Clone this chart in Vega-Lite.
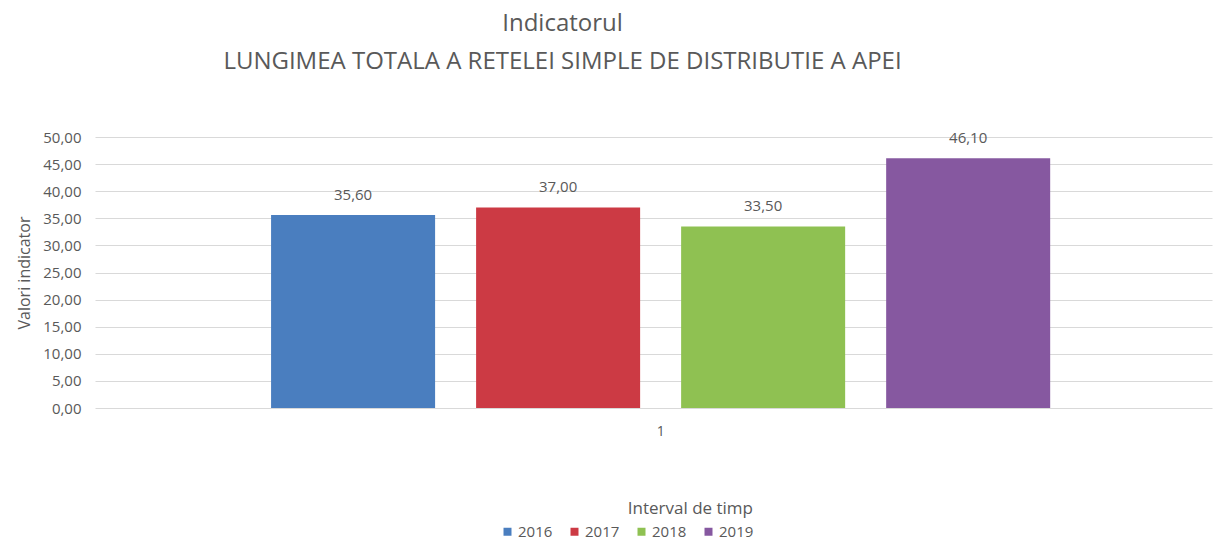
{
  "$schema": "https://vega.github.io/schema/vega-lite/v6.json",
  "autosize": "none",
  "width": 1117,
  "height": 271,
  "padding": {"left": 95, "top": 137, "right": 2, "bottom": 132},
  "background": "white",
  "title": {
    "text": ["Indicatorul", "LUNGIMEA TOTALA A RETELEI SIMPLE DE DISTRIBUTIE A APEI"],
    "anchor": "middle",
    "dx": -91,
    "offset": 56,
    "font": "Open Sans",
    "fontSize": 24,
    "fontWeight": "normal",
    "color": "#595959",
    "lineHeight": 38
  },
  "data": {
    "values": [
      {"cat": "1", "an": "2016", "val": 35.6},
      {"cat": "1", "an": "2017", "val": 37.0},
      {"cat": "1", "an": "2018", "val": 33.5},
      {"cat": "1", "an": "2019", "val": 46.1}
    ]
  },
  "encoding": {
    "x": {
      "field": "cat", "type": "nominal",
      "scale": {"paddingInner": 0, "paddingOuter": 0.181, "align": 0.524},
      "axis": {"title": null, "labelAngle": 0, "ticks": false, "domain": false, "labelPadding": 16, "labelFont": "Open Sans", "labelFontSize": 14, "labelColor": "#595959"}
    },
    "xOffset": {"field": "an", "type": "nominal", "scale": {"paddingInner": 0.2, "paddingOuter": 0.1}},
    "y": {
      "field": "val", "type": "quantitative",
      "scale": {"domain": [0, 50]},
      "axis": {
        "title": "Valori indicator",
        "titleFont": "Open Sans", "titleFontSize": 16, "titleFontWeight": "normal", "titleColor": "#595959", "titlePadding": 10,
        "values": [0, 5, 10, 15, 20, 25, 30, 35, 40, 45, 50],
        "labelExpr": "replace(format(datum.value, '.2f'), '.', ',')",
        "labelFont": "Open Sans", "labelFontSize": 15, "labelColor": "#595959", "labelPadding": 14,
        "ticks": false, "domain": false,
        "grid": true, "gridColor": "#d9d9d9", "gridWidth": 1
      }
    }
  },
  "layer": [
    {
      "mark": {"type": "bar"},
      "encoding": {
        "color": {
          "field": "an", "type": "nominal",
          "scale": {"domain": ["2016", "2017", "2018", "2019"], "range": ["#4a7ebf", "#cc3a44", "#8fc152", "#8658a0"]},
          "legend": {
            "title": "Interval de timp",
            "orient": "none",
            "legendX": 405,
            "legendY": 364,
            "direction": "horizontal",
            "titleOrient": "top",
            "titleAnchor": "end",
            "titleFont": "Open Sans", "titleFontSize": 17, "titleFontWeight": "normal", "titleColor": "#595959",
            "titlePadding": 6,
            "labelFont": "Open Sans", "labelFontSize": 15, "labelColor": "#595959",
            "labelOffset": 3,
            "symbolType": "square", "symbolSize": 64, "symbolStrokeWidth": 0,
            "columnPadding": 14
          }
        }
      }
    },
    {
      "mark": {"type": "text", "baseline": "bottom", "dy": -12, "font": "Open Sans", "fontSize": 15, "color": "#595959"},
      "encoding": {
        "text": {"field": "val", "type": "quantitative", "format": ".2f"}
      }
    }
  ],
  "config": {
    "view": {"stroke": null},
    "locale": {"number": {"decimal": ",", "thousands": ".", "grouping": [3], "currency": ["", " €"]}}
  }
}
